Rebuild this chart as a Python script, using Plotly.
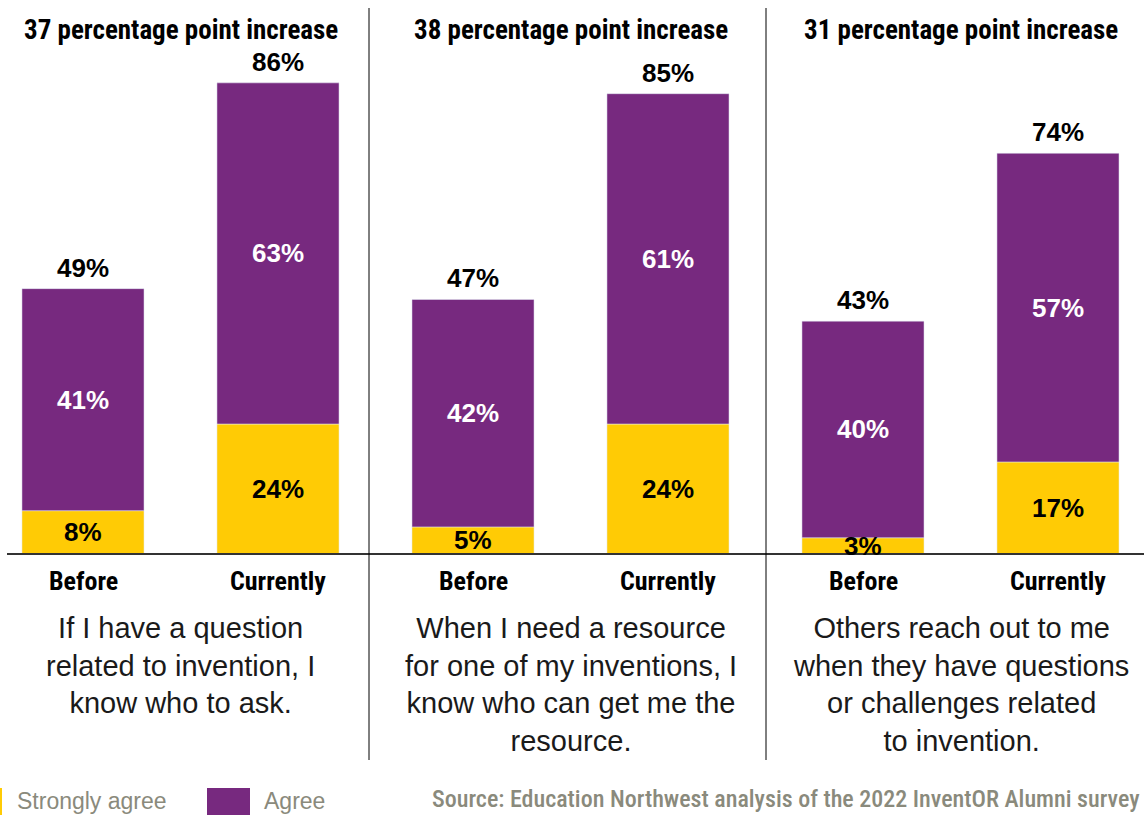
import plotly.graph_objects as go

# Survey results: share of alumni who agree / strongly agree, before and now
periods = ["Before", "Currently", "Before", "Currently", "Before", "Currently"]
strongly_agree = [8, 24, 5, 24, 3, 17]
agree = [41, 63, 42, 61, 40, 57]
totals = [49, 86, 47, 85, 43, 74]
increase = [37, 38, 31]
statements = [
    "If I have a question<br>related to invention, I<br>know who to ask.",
    "When I need a resource<br>for one of my inventions, I<br>know who can get me the<br>resource.",
    "Others reach out to me<br>when they have questions<br>or challenges related<br>to invention.",
]

YELLOW = "#FFCB05"
PURPLE = "#77297F"
GREY = "#8A8A7C"
W, H = 1144, 815
BASE_PX = 554          # pixel row of the baseline
UNIT_PX = 195          # pixels between neighbouring bars
FIRST_PX = 83          # centre of the first bar
YMAX = 102.3

COND = "Roboto Condensed, Roboto, sans-serif"
REG = "Liberation Sans, Arial, sans-serif"

xs = list(range(len(periods)))


def py(px):
    """pixel row -> paper y"""
    return (BASE_PX - px) / BASE_PX


def px_x(px):
    return px / W


fig = go.Figure()
fig.add_bar(x=xs, y=strongly_agree, name="Strongly agree", marker_color=YELLOW,
            width=0.626, hoverinfo="skip")
fig.add_bar(x=xs, y=agree, base=strongly_agree, name="Agree", marker_color=PURPLE,
            width=0.626, hoverinfo="skip")

ann = []
for i in xs:
    s, a, t = strongly_agree[i], agree[i], totals[i]
    ann.append(dict(x=i, y=s / 2, xref="x", yref="y", text=f"<b>{s}%</b>", showarrow=False,
                    xanchor="center", yanchor="middle",
                    font=dict(family=REG, size=26, color="black")))
    ann.append(dict(x=i, y=s + a / 2, xref="x", yref="y", text=f"<b>{a}%</b>", showarrow=False,
                    xanchor="center", yanchor="middle",
                    font=dict(family=REG, size=26, color="white")))
    ann.append(dict(x=i, y=s + a, xref="x", yref="y", text=f"<b>{t}%</b>", showarrow=False,
                    xanchor="center", yanchor="bottom", yshift=4,
                    font=dict(family=REG, size=26, color="black")))
    ann.append(dict(x=i, y=py(581), xref="x", yref="paper", text=f"<b>{periods[i]}</b>",
                    showarrow=False, xanchor="center", yanchor="middle",
                    font=dict(family=COND, size=26, color="black")))

for p in range(3):
    cx = 2 * p + 0.5
    ann.append(dict(x=cx, y=py(30), xref="x", yref="paper",
                    text=f"<b>{increase[p]} percentage point increase</b>", showarrow=False,
                    xanchor="center", yanchor="middle",
                    font=dict(family=COND, size=27, color="black")))
    ann.append(dict(x=cx, y=py(610), xref="x", yref="paper", xanchor="center", yanchor="top",
                    text=statements[p], showarrow=False, align="center",
                    font=dict(family=REG, size=29, color="#1a1a1a")))

# legend and source line
ann.append(dict(x=px_x(15), y=py(801), xref="paper", yref="paper", xanchor="left",
                yanchor="middle", text="Strongly agree", showarrow=False,
                font=dict(family=REG, size=23, color=GREY)))
ann.append(dict(x=px_x(262), y=py(801), xref="paper", yref="paper", xanchor="left",
                yanchor="middle", text="Agree", showarrow=False,
                font=dict(family=REG, size=23, color=GREY)))
ann.append(dict(x=px_x(1142), y=py(799), xref="paper", yref="paper", xanchor="right",
                yanchor="middle",
                text="Source: Education Northwest analysis of the 2022 InventOR Alumni survey",
                showarrow=False, font=dict(family=COND, size=24, color=GREY, weight=500)))

shapes = [
    dict(type="line", xref="paper", yref="paper", x0=px_x(7), x1=1, y0=0, y1=0,
         line=dict(color="#333333", width=2)),
    dict(type="line", xref="paper", yref="paper", x0=px_x(369), x1=px_x(369),
         y0=py(8), y1=py(760), line=dict(color="black", width=1)),
    dict(type="line", xref="paper", yref="paper", x0=px_x(766), x1=px_x(766),
         y0=py(8), y1=py(760), line=dict(color="black", width=1)),
    dict(type="rect", xref="paper", yref="paper", x0=px_x(-41), x1=px_x(2),
         y0=py(788), y1=py(820), line_width=0, fillcolor=YELLOW),
    dict(type="rect", xref="paper", yref="paper", x0=px_x(207), x1=px_x(250),
         y0=py(788), y1=py(820), line_width=0, fillcolor=PURPLE),
]

fig.update_layout(
    width=W, height=H, barmode="overlay", showlegend=False,
    margin=dict(l=0, r=0, t=0, b=H - BASE_PX, pad=0),
    paper_bgcolor="white", plot_bgcolor="white",
    xaxis=dict(range=[-FIRST_PX / UNIT_PX, (W - FIRST_PX) / UNIT_PX], visible=False, fixedrange=True),
    yaxis=dict(range=[0, YMAX], visible=False, fixedrange=True),
    annotations=ann, shapes=shapes,
)

fig.write_html("out.html", config={"displayModeBar": False})
